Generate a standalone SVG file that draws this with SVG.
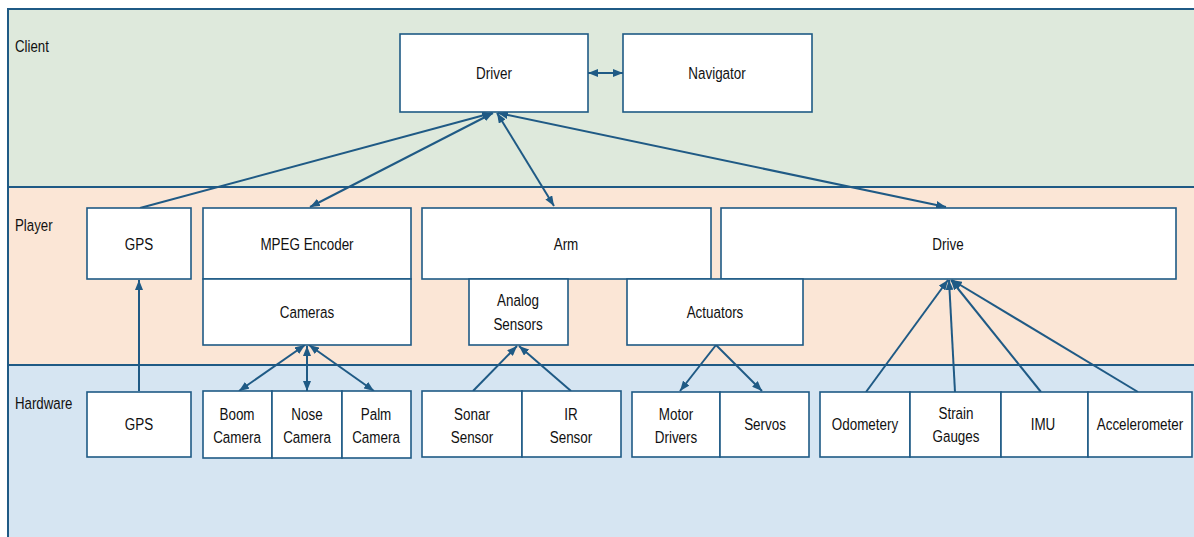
<svg xmlns="http://www.w3.org/2000/svg" width="1194" height="537" viewBox="0 0 1194 537">
<style>
.box{fill:#ffffff;stroke:#1f5a85;stroke-width:1.6}
.t{font-family:"Liberation Sans",Arial,sans-serif;font-size:17px;fill:#111;text-anchor:middle}
.lab{font-family:"Liberation Sans",Arial,sans-serif;font-size:17px;fill:#111}
.c{fill:none;stroke:#1f5a85;stroke-width:2}
.band{stroke:#1f5a85;stroke-width:2}
</style>
<defs>
<marker id="ah" viewBox="0 0 10 8" refX="10" refY="4" markerWidth="10" markerHeight="8" markerUnits="userSpaceOnUse" orient="auto-start-reverse">
<path d="M0,0 L10,4 L0,8 z" fill="#1f5a85"/>
</marker>
</defs>
<rect x="0" y="0" width="1194" height="537" fill="#ffffff"/>
<g id="bands">
<rect x="8" y="9" width="1190" height="178" fill="#dee9dc" class="band"/>
<rect x="8" y="187" width="1190" height="178" fill="#fbe6d6" class="band"/>
<rect x="8" y="365" width="1190" height="180" fill="#d6e5f2" class="band"/>
<text class="lab" transform="translate(15,52) scale(0.78,1)">Client</text>
<text class="lab" transform="translate(15,231) scale(0.78,1)">Player</text>
<text class="lab" transform="translate(15,409) scale(0.78,1)">Hardware</text>
</g>
<g id="connectors">
<line class="c" x1="588" y1="73" x2="623" y2="73" marker-start="url(#ah)" marker-end="url(#ah)"/>
<line class="c" x1="140" y1="208" x2="492" y2="113" marker-end="url(#ah)"/>
<line class="c" x1="310" y1="207" x2="493" y2="113" marker-start="url(#ah)" marker-end="url(#ah)"/>
<line class="c" x1="497" y1="113" x2="554" y2="206" marker-start="url(#ah)" marker-end="url(#ah)"/>
<line class="c" x1="498" y1="113" x2="946" y2="207" marker-start="url(#ah)" marker-end="url(#ah)"/>
<line class="c" x1="139" y1="391" x2="139" y2="280" marker-end="url(#ah)"/>
<line class="c" x1="305" y1="345" x2="239" y2="391" marker-start="url(#ah)" marker-end="url(#ah)"/>
<line class="c" x1="307" y1="346" x2="307" y2="391" marker-start="url(#ah)" marker-end="url(#ah)"/>
<line class="c" x1="309" y1="345" x2="374" y2="391" marker-start="url(#ah)" marker-end="url(#ah)"/>
<line class="c" x1="473" y1="391" x2="517" y2="346" marker-end="url(#ah)"/>
<line class="c" x1="571" y1="391" x2="519" y2="346" marker-end="url(#ah)"/>
<line class="c" x1="716" y1="345" x2="680" y2="391" marker-end="url(#ah)"/>
<line class="c" x1="716" y1="345" x2="762" y2="391" marker-end="url(#ah)"/>
<line class="c" x1="866" y1="392" x2="948" y2="280" marker-end="url(#ah)"/>
<line class="c" x1="955" y1="392" x2="949" y2="280" marker-end="url(#ah)"/>
<line class="c" x1="1041" y1="392" x2="951" y2="280" marker-end="url(#ah)"/>
<line class="c" x1="1138" y1="392" x2="952" y2="280" marker-end="url(#ah)"/>
</g>
<g id="driver"><rect class="box" x="400" y="34" width="188" height="78"/><text class="t" transform="translate(494,79) scale(0.79,1)">Driver</text></g>
<g id="navigator"><rect class="box" x="623" y="34" width="189" height="78"/><text class="t" transform="translate(717,79) scale(0.79,1)">Navigator</text></g>
<g id="gps-player"><rect class="box" x="87" y="208" width="104" height="71"/><text class="t" transform="translate(139,250) scale(0.79,1)">GPS</text></g>
<g id="mpeg"><rect class="box" x="203" y="208" width="208" height="71"/><text class="t" transform="translate(307,250) scale(0.79,1)">MPEG Encoder</text></g>
<g id="cameras"><rect class="box" x="203" y="279" width="208" height="66"/><text class="t" transform="translate(307,318) scale(0.79,1)">Cameras</text></g>
<g id="arm"><rect class="box" x="422" y="208" width="289" height="71"/><text class="t" transform="translate(566,250) scale(0.79,1)">Arm</text></g>
<g id="drive"><rect class="box" x="721" y="208" width="455" height="71"/><text class="t" transform="translate(948,250) scale(0.79,1)">Drive</text></g>
<g id="analog"><rect class="box" x="469" y="279" width="99" height="66"/><text class="t" transform="translate(518,306) scale(0.79,1)">Analog</text><text class="t" transform="translate(518,330) scale(0.79,1)">Sensors</text></g>
<g id="actuators"><rect class="box" x="627" y="279" width="176" height="66"/><text class="t" transform="translate(715,318) scale(0.79,1)">Actuators</text></g>
<g id="gps-hw"><rect class="box" x="87" y="392" width="104" height="65"/><text class="t" transform="translate(139,430) scale(0.79,1)">GPS</text></g>
<g id="boom"><rect class="box" x="203" y="391" width="69" height="67"/><text class="t" transform="translate(237,420) scale(0.79,1)">Boom</text><text class="t" transform="translate(237,443) scale(0.79,1)">Camera</text></g>
<g id="nose"><rect class="box" x="272" y="391" width="70" height="67"/><text class="t" transform="translate(307,420) scale(0.79,1)">Nose</text><text class="t" transform="translate(307,443) scale(0.79,1)">Camera</text></g>
<g id="palm"><rect class="box" x="342" y="391" width="69" height="67"/><text class="t" transform="translate(376,420) scale(0.79,1)">Palm</text><text class="t" transform="translate(376,443) scale(0.79,1)">Camera</text></g>
<g id="sonar"><rect class="box" x="422" y="391" width="100" height="66"/><text class="t" transform="translate(472,420) scale(0.79,1)">Sonar</text><text class="t" transform="translate(472,443) scale(0.79,1)">Sensor</text></g>
<g id="ir"><rect class="box" x="522" y="391" width="99" height="66"/><text class="t" transform="translate(571,420) scale(0.79,1)">IR</text><text class="t" transform="translate(571,443) scale(0.79,1)">Sensor</text></g>
<g id="motor"><rect class="box" x="632" y="392" width="88" height="65"/><text class="t" transform="translate(676,420) scale(0.79,1)">Motor</text><text class="t" transform="translate(676,443) scale(0.79,1)">Drivers</text></g>
<g id="servos"><rect class="box" x="720" y="392" width="89" height="65"/><text class="t" transform="translate(765,430) scale(0.79,1)">Servos</text></g>
<g id="odometery"><rect class="box" x="820" y="392" width="90" height="65"/><text class="t" transform="translate(865,430) scale(0.79,1)">Odometery</text></g>
<g id="strain"><rect class="box" x="910" y="392" width="91" height="65"/><text class="t" transform="translate(956,419) scale(0.79,1)">Strain</text><text class="t" transform="translate(956,442) scale(0.79,1)">Gauges</text></g>
<g id="imu"><rect class="box" x="1001" y="392" width="87" height="65"/><text class="t" transform="translate(1043,430) scale(0.79,1)">IMU</text></g>
<g id="accelerometer"><rect class="box" x="1088" y="392" width="104" height="65"/><text class="t" transform="translate(1140,430) scale(0.79,1)">Accelerometer</text></g>
</svg>
